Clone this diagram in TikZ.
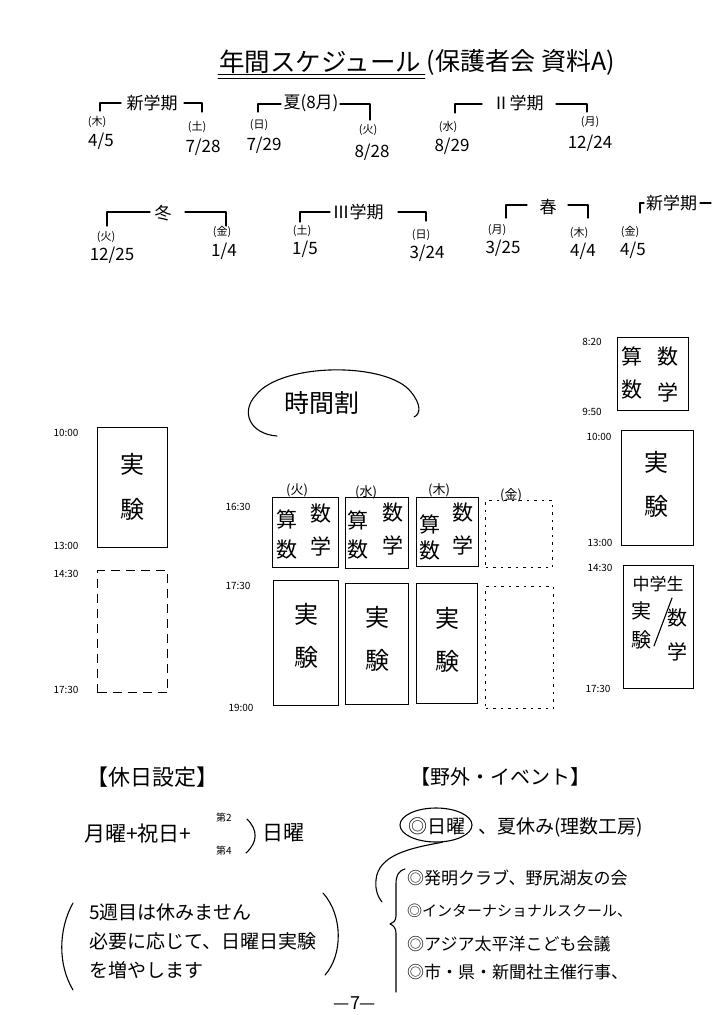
\documentclass[tikz,border=0pt]{standalone}
\usepackage{fontspec}
\setmainfont{Noto Sans CJK JP}
\usetikzlibrary{shapes.geometric}
\newcommand{\fs}[1]{\fontsize{#1}{#1}\selectfont}
\begin{document}
\begin{tikzpicture}[x=1pt,y=-1pt,
  pen/.style={line width=1.1pt, line cap=round, line join=round},
  sbox/.style={draw, line width=1.1pt, anchor=north west, inner sep=0pt},
  dbox/.style={draw, line width=1pt, dash pattern=on 9pt off 6pt, anchor=north west, inner sep=0pt},
  dotbox/.style={draw, line width=1pt, dash pattern=on 2.5pt off 5pt, anchor=north west, inner sep=0pt},
  tm/.style={font=\fs{10}, inner sep=0pt},
  dy/.style={font=\fs{11}, inner sep=0pt},
  dt/.style={font=\fs{17}, inner sep=0pt},
  lab/.style={font=\fs{17}, inner sep=0pt},
  kj/.style={font=\fs{24}, inner sep=0pt},
  ks/.style={font=\fs{21}, inner sep=0pt},
  txt/.style={font=\fs{19}, inner sep=0pt, anchor=west},
  lst/.style={font=\fs{17}, inner sep=0pt, anchor=west}]
\useasboundingbox[fill=white] (0,0) rectangle (712,1015);

% ---------- title ----------
\node[font=\fs{25.5}, inner sep=0pt, anchor=west] (t1) at (219,62) {年間スケジュール};
\node[font=\fs{25}, inner sep=0pt, anchor=west] (t2) at ([xshift=5pt]t1.east) {(保護者会\hspace{6pt}資料A)};
\draw[pen, line width=0.9pt] (218,74) -- (425,74);
\draw[pen, line width=0.9pt] (218,78) -- (425,78);

% ---------- row 1 ----------
\node[lab] (p1) at (152,103) {新学期};
\draw[pen] (100,111) -- (100,103) -- (121,103);
\draw[pen] (184,103) -- (202,103) -- (202,112);
\node[dy] (d1a) at (97,122) {(木)};
\node[dt] (n1a) at (101,141) {4/5};
\node[dy] (d1b) at (197,127) {(土)};
\node[dt] (n1b) at (203,147) {7/28};

\node[lab] (p2) at (311,103) {夏(8月)};
\draw[pen] (258,112) -- (258,104) -- (281,104);
\draw[pen] (340,104) -- (370,104) -- (370,120);
\node[dy] (d2a) at (259,125) {(日)};
\node[dt] (n2a) at (264,145) {7/29};
\node[dy] (d2b) at (368,130) {(火)};
\node[dt] (n2b) at (372,152) {8/28};

\node[lab] (p3) at (518,103) {Ⅱ学期};
\draw[pen] (455,113) -- (455,104) -- (482,104);
\draw[pen] (556,104) -- (587,104) -- (587,112);
\node[dy] (d3a) at (448,127) {(水)};
\node[dt] (n3a) at (452,146) {8/29};
\node[dy] (d3b) at (590,122) {(月)};
\node[dt] (n3b) at (590,143) {12/24};

% ---------- row 2 ----------
\node[lab] (p4) at (163,213) {冬};
\draw[pen] (107,226) -- (107,212) -- (150,212);
\draw[pen] (185,212) -- (226,212) -- (226,226);
\node[dy] (d4a) at (106,237) {(火)};
\node[dt] (n4a) at (112,255) {12/25};
\node[dy] (d4b) at (222,232) {(金)};
\node[dt] (n4b) at (224,251) {1/4};

\node[lab] (p5) at (358,212) {Ⅲ学期};
\draw[pen] (300,222) -- (300,212) -- (330,212);
\draw[pen] (398,212) -- (426,212) -- (426,221);
\node[dy] (d5a) at (302,231) {(土)};
\node[dt] (n5a) at (305,249) {1/5};
\node[dy] (d5b) at (421,235) {(日)};
\node[dt] (n5b) at (427,253) {3/24};

\node[lab] (p6) at (548,207) {春};
\draw[pen] (506,218) -- (506,205) -- (527,205);
\draw[pen] (568,205) -- (588,205) -- (588,218);
\node[dy] (d6a) at (497,230) {(月)};
\node[dt] (n6a) at (503,248) {3/25};
\node[dy] (d6b) at (579,233) {(木)};
\node[dt] (n6b) at (583,251) {4/4};

\node[lab, anchor=west] (p7) at (646,203) {新学期};
\draw[pen] (640,213) -- (640,203) -- (644,203);
\draw[pen] (700,203) -- (711,203);
\node[dy] (d7a) at (630,232) {(金)};
\node[dt] (n7a) at (633,250) {4/5};

% ---------- timetable title ----------
\node[font=\fs{25}, inner sep=0pt] (tt) at (322,403) {時間割};
\draw[pen] (277,436) .. controls (250,434) and (240,412) .. (256,395)
  .. controls (282,362) and (388,362) .. (411,392)
  .. controls (421,404) and (421,414) .. (414,417);

% ---------- left column ----------
\node[sbox, minimum width=70pt, minimum height=120pt] (L1) at (97,427) {};
\node[kj] (L1a) at (132,464) {実};
\node[kj] (L1b) at (132,509) {験};
\node[dbox, minimum width=70pt, minimum height=122pt] (L2) at (97,570) {};
\node[tm] (lt1) at (66,433) {10:00};
\node[tm] (lt2) at (66,546) {13:00};
\node[tm] (lt3) at (66,574) {14:30};
\node[tm] (lt4) at (66,690) {17:30};

% ---------- centre ----------
\node[font=\fs{13}, inner sep=0pt] (h1) at (297,490) {(火)};
\node[font=\fs{13}, inner sep=0pt] (h2) at (366,492) {(水)};
\node[font=\fs{13}, inner sep=0pt] (h3) at (439,490) {(木)};
\node[font=\fs{13}, inner sep=0pt] (h4) at (511,495) {(金)};
\node[tm] (ct1) at (238,507) {16:30};
\node[tm] (ct2) at (238,586) {17:30};
\node[tm] (ct3) at (241,708) {19:00};

\node[sbox, minimum width=66pt, minimum height=70pt] (A1) at (272,497) {};
\node[ks] at (287,519) {算};
\node[ks] at (287,550) {数};
\node[ks] at (321,514) {数};
\node[ks] at (321,546) {学};
\node[sbox, minimum width=63pt, minimum height=71pt] (A2) at (345,497) {};
\node[ks] at (358,520) {算};
\node[ks] at (358,550) {数};
\node[ks] at (393,513) {数};
\node[ks] at (393,545) {学};
\node[sbox, minimum width=62pt, minimum height=69pt] (A3) at (416,497) {};
\node[ks] at (430,524) {算};
\node[ks] at (430,551) {数};
\node[ks] at (463,513) {数};
\node[ks] at (463,545) {学};
\node[dotbox, minimum width=67pt, minimum height=67pt] (A4) at (485,500) {};

\node[sbox, minimum width=65pt, minimum height=125pt] (B1) at (273,580) {};
\node[kj] at (306,614) {実};
\node[kj] at (306,657) {験};
\node[sbox, minimum width=63pt, minimum height=121pt] (B2) at (345,583) {};
\node[kj] at (377,617) {実};
\node[kj] at (377,660) {験};
\node[sbox, minimum width=61pt, minimum height=120pt] (B3) at (416,583) {};
\node[kj] at (447,618) {実};
\node[kj] at (447,661) {験};
\node[dotbox, minimum width=68pt, minimum height=122pt] (B4) at (485,586) {};

% ---------- right column ----------
\node[tm] (rt1) at (592,342) {8:20};
\node[tm] (rt2) at (592,412) {9:50};
\node[tm] (rt3) at (599,437) {10:00};
\node[tm] (rt4) at (600,543) {13:00};
\node[tm] (rt5) at (600,568) {14:30};
\node[tm] (rt6) at (598,689) {17:30};

\node[sbox, minimum width=71pt, minimum height=73pt] (R1) at (617,337) {};
\node[ks] at (632,356) {算};
\node[ks] at (632,390) {数};
\node[ks] at (668,357) {数};
\node[ks] at (668,392) {学};
\node[sbox, minimum width=72pt, minimum height=115pt] (R2) at (621,430) {};
\node[kj] at (656,462) {実};
\node[kj] at (656,506) {験};
\node[sbox, minimum width=70pt, minimum height=123pt] (R3) at (623,565) {};
\node[font=\fs{17}, inner sep=0pt] at (658,584) {中学生};
\node[font=\fs{20}, inner sep=0pt] at (641,611) {実};
\node[font=\fs{20}, inner sep=0pt] at (641,640) {験};
\node[font=\fs{20}, inner sep=0pt] at (677,618) {数};
\node[font=\fs{20}, inner sep=0pt] at (677,652) {学};
\draw[pen] (654,646) -- (672,598);

% ---------- holidays ----------
\node[font=\fs{22}, inner sep=0pt] (hol) at (152,777) {【休日設定】};
\node[font=\fs{21}, inner sep=0pt, anchor=west] (hf) at (84,834) {月曜+祝日+};
\node[font=\fs{10}, inner sep=0pt] (h2nd) at (224,818) {第2};
\node[font=\fs{10}, inner sep=0pt] (h4th) at (224,851) {第4};
\draw[pen] (247,819) .. controls (258,830) and (258,842) .. (246,853);
\node[font=\fs{21}, inner sep=0pt, anchor=west] (hsun) at (262,833) {日曜};

\draw[pen] (73,903) .. controls (58,930) and (58,965) .. (73,990);
\draw[pen] (323,893) .. controls (343,915) and (343,955) .. (325,975);
\node[txt] (q1) at (89,912) {5週目は休みません};
\node[txt] (q2) at (89,941) {必要に応じて、日曜日実験};
\node[txt] (q3) at (89,970) {を増やします};

% ---------- events ----------
\node[font=\fs{20}, inner sep=0pt] (ev) at (500,777) {【野外・イベント】};
\node[draw, pen, ellipse, minimum width=72pt, minimum height=34pt, inner sep=0pt] (circ) at (436,825) {};
\node[font=\fs{19}, inner sep=0pt] (sun) at (437,826) {◎日曜};
\node[font=\fs{19}, inner sep=0pt, anchor=west] (summer) at (478,827) {、夏休み(理数工房)};
\draw[pen] (circ.-70) .. controls (410,848) and (378,855) .. (376,880)
  .. controls (375,890) and (378,897) .. (382,902);
\draw[pen] (405,869) .. controls (398,871) and (396,876) .. (396,884)
  -- (396,916) .. controls (396,921) and (393,923) .. (390,924)
  .. controls (393,925) and (396,928) .. (396,933)
  -- (396,992);
\node[lst] (e1) at (407,878) {◎発明クラブ、野尻湖友の会};
\node[lst, font=\fs{15}] (e2) at (407,911) {◎インターナショナルスクール、};
\node[lst] (e3) at (407,944) {◎アジア太平洋こども会議};
\node[lst] (e4) at (407,972) {◎市・県・新聞社主催行事、};

\node[font=\fs{18}, inner sep=0pt] (pg) at (355,1003) {—7—};
\end{tikzpicture}
\end{document}
